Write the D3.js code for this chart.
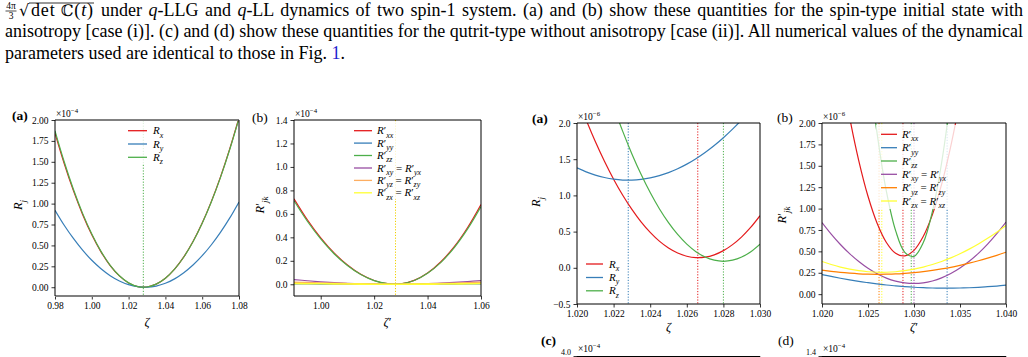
<!DOCTYPE html>
<html><head><meta charset="utf-8">
<script src="https://cdn.jsdelivr.net/npm/d3@7"></script>
<style>body{margin:0;background:#fff;overflow:hidden} svg{display:block}</style>
</head><body>
<svg id="c" width="1028" height="357"></svg>
<script>
// ---------------- DATA ----------------
// Panel (a) left, values x1e-4
const zetaA = [0.980,0.985,0.990,0.995,1.000,1.005,1.010,1.015,1.020,1.025,1.030,1.035,1.040,1.045,1.050,1.055,1.060,1.065,1.070,1.075,1.080];
const aRx = [1.843,1.479,1.155,0.871,0.627,0.423,0.259,0.135,0.051,0.007,0.003,0.037,0.108,0.217,0.363,0.547,0.768,1.027,1.323,1.657,2.028];
const aRy = [0.920,0.741,0.583,0.443,0.322,0.221,0.138,0.075,0.031,0.006,0.000,0.014,0.047,0.100,0.173,0.265,0.377,0.508,0.659,0.829,1.020];
const aRz = [1.870,1.500,1.171,0.883,0.636,0.429,0.262,0.137,0.052,0.007,0.003,0.037,0.108,0.216,0.361,0.544,0.765,1.022,1.317,1.650,2.020];
const aMin = [1.028];

// Panel (b) left, values x1e-4
const zetaB = [0.990,0.995,1.000,1.005,1.010,1.015,1.020,1.025,1.030,1.035,1.040,1.045,1.050,1.055,1.060];
const bRxx = [0.729,0.550,0.396,0.267,0.164,0.085,0.032,0.005,0.003,0.033,0.096,0.192,0.321,0.484,0.680];
const bRyy = [0.004,0.003,0.002,0.001,0.001,0.000,0.000,0.000,0.000,0.000,0.001,0.001,0.002,0.003,0.004];
const bRzz = [0.712,0.537,0.386,0.260,0.160,0.083,0.031,0.005,0.003,0.032,0.094,0.187,0.313,0.472,0.663];
const bRxy = [0.040,0.030,0.021,0.014,0.008,0.004,0.001,0.000,0.000,0.002,0.005,0.010,0.016,0.023,0.031];
const bRyz = [0.017,0.014,0.011,0.008,0.005,0.003,0.001,0.000,0.000,0.001,0.003,0.006,0.009,0.013,0.017];
const bRzx = [0.006,0.005,0.004,0.003,0.002,0.001,0.000,0.000,0.000,0.001,0.001,0.002,0.003,0.004,0.006];
const bMin = [1.028];

// Panel (a) right, values x1e-6
const zetaC = [1.0200,1.0205,1.0210,1.0215,1.0220,1.0225,1.0230,1.0235,1.0240,1.0245,1.0250,1.0255,1.0260,1.0265,1.0270,1.0275,1.0280,1.0285,1.0290,1.0295,1.0300];
const cRx = [2.366,2.043,1.744,1.472,1.224,1.002,0.806,0.634,0.489,0.368,0.273,0.204,0.160,0.141,0.147,0.179,0.237,0.320,0.428,0.561,0.720];
const cRy = [1.380,1.325,1.280,1.247,1.224,1.212,1.211,1.221,1.241,1.273,1.315,1.368,1.432,1.507,1.593,1.689,1.797,1.915,2.044,2.184,2.335];
const cRz = [3.885,3.426,2.996,2.595,2.225,1.884,1.573,1.291,1.039,0.816,0.624,0.461,0.327,0.223,0.149,0.105,0.090,0.105,0.149,0.223,0.327];
const cMin = {Ry:1.0228, Rx:1.0266, Rz:1.0280};

// Panel (b) right, values x1e-6
const zetaD = [1.020,1.021,1.022,1.023,1.024,1.025,1.026,1.027,1.028,1.029,1.030,1.031,1.032,1.033,1.034,1.035,1.036,1.037,1.038,1.039,1.040];
const dRxx = [4.171,3.374,2.673,2.067,1.558,1.144,0.826,0.604,0.477,0.447,0.512,0.673,0.929,1.282,1.730,2.274,2.914,3.650,4.482,5.409,6.432];
const dRyy = [0.229,0.207,0.186,0.167,0.149,0.134,0.120,0.107,0.097,0.088,0.081,0.076,0.072,0.070,0.070,0.072,0.075,0.080,0.087,0.095,0.105];
const dRzz = [10.19,8.28,6.59,5.10,3.82,2.74,1.87,1.20,0.742,0.489,0.442,0.600,0.965,1.535,2.312,3.295,4.48,5.88,7.48,9.29,11.30];
const dRxy = [0.837,0.702,0.580,0.473,0.381,0.302,0.238,0.188,0.153,0.132,0.125,0.132,0.154,0.190,0.241,0.305,0.384,0.477,0.585,0.707,0.843];
const dRyz = [0.280,0.266,0.254,0.245,0.238,0.234,0.232,0.233,0.236,0.243,0.252,0.263,0.278,0.295,0.314,0.337,0.362,0.390,0.421,0.454,0.490];
const dRzx = [0.382,0.346,0.316,0.292,0.274,0.262,0.256,0.256,0.262,0.274,0.292,0.316,0.346,0.382,0.424,0.472,0.526,0.586,0.652,0.724,0.802];
const dMin = {Ryz:1.0262, Rzx:1.0265, Rxx:1.0288, Rzz:1.0297, Rxy:1.0300, Ryy:1.0336};

// tick values
const xTicksA = [0.98,1.00,1.02,1.04,1.06,1.08];
const yTicksA = [0,0.25,0.5,0.75,1.0,1.25,1.5,1.75,2.0];
const xTicksB = [1.00,1.02,1.04,1.06];
const yTicksB = [0,0.2,0.4,0.6,0.8,1.0,1.2,1.4];
const xTicksC = [1.020,1.022,1.024,1.026,1.028,1.030];
const yTicksC = [-0.5,0,0.5,1.0,1.5,2.0];
const xTicksD = [1.020,1.025,1.030,1.035,1.040];
const yTicksD = [0,0.25,0.5,0.75,1.0,1.25,1.5,1.75,2.0];

// ---------------- DRAWING ----------------
const RED="#e41a1c", BLUE="#377eb8", GREEN="#4daf4a", PURPLE="#984ea3", ORANGE="#ff7f00", YELLOW="#ffff33";
const SERIF = "'Liberation Serif','DejaVu Serif',serif";
const svg = d3.select("#c");

function rich(g, x, y, segs, fs, anchor) {
  const t = g.append("text").attr("x", x).attr("y", y).attr("font-size", fs)
    .attr("font-family", SERIF).attr("text-anchor", anchor || "start").attr("fill", "#000");
  let cur = 0;
  segs.forEach(([s, st]) => {
    st = st || "";
    const target = st.includes("sub") ? fs * 0.3 : st.includes("sup") ? -fs * 0.42 : 0;
    const ts = t.append("tspan").text(s).attr("dy", target - cur);
    if (st.includes("sub") || st.includes("sup")) ts.attr("font-size", fs * 0.72);
    if (st.includes("i")) ts.attr("font-style", "italic");
    cur = target;
  });
  return t;
}
const L = (j) => [["R","i"],[j,"i sub"]];
const LP = (j) => [["R","i"],["′",""],[j,"i sub"]];
const LPE = (a,b) => [["R","i"],["′",""],[a,"i sub"],[" = ",""],["R","i"],["′",""],[b,"i sub"]];

function panel(cfg) {
  const g = svg.append("g");
  const x = d3.scaleLinear().domain(cfg.xdom).range([cfg.x0, cfg.x1]);
  const y = d3.scaleLinear().domain(cfg.ydom).range([cfg.y1, cfg.y0]);
  const id = "clip" + cfg.id;
  svg.append("clipPath").attr("id", id).append("rect")
    .attr("x", cfg.x0).attr("y", cfg.y0).attr("width", cfg.x1 - cfg.x0).attr("height", cfg.y1 - cfg.y0);
  const plot = g.append("g").attr("clip-path", `url(#${id})`);
  cfg.vlines.forEach(v => plot.append("line")
    .attr("x1", x(v.x)).attr("x2", x(v.x)).attr("y1", cfg.y0).attr("y2", cfg.y1)
    .attr("stroke", v.color).attr("stroke-width", 1).attr("stroke-dasharray", "1.2,1.6"));
  const line = d3.line().curve(d3.curveCatmullRom.alpha(0.5));
  cfg.series.forEach(s => plot.append("path")
    .attr("d", line(s.y.map((v, i) => [x(cfg.xs[i]), y(v)])))
    .attr("fill", "none").attr("stroke", s.color).attr("stroke-width", s.w || 1.2)
    .attr("stroke-opacity", s.op || 1));
  // legend
  const lg = cfg.legend;
  plot.append("rect").attr("x", lg.box[0]).attr("y", lg.box[1]).attr("width", lg.box[2]).attr("height", lg.box[3])
    .attr("fill", "#fff").attr("fill-opacity", 0.8);
  lg.rows.forEach((yy, i) => {
    const s = cfg.series[lg.order[i]];
    g.append("line").attr("x1", lg.lx[0]).attr("x2", lg.lx[1]).attr("y1", yy).attr("y2", yy)
      .attr("stroke", s.color).attr("stroke-width", 1.3).attr("stroke-opacity", s.op || 1);
    rich(g, lg.tx, yy + 3.5, s.label, 11);
  });
  // axes
  const ax = g.append("g").attr("transform", `translate(0,${cfg.y1})`)
    .call(d3.axisBottom(x).tickValues(cfg.xticks).tickFormat(cfg.xfmt).tickSize(3.5).tickPadding(3));
  const ay = g.append("g").attr("transform", `translate(${cfg.x0},0)`)
    .call(d3.axisLeft(y).tickValues(cfg.yticks).tickFormat(cfg.yfmt).tickSize(3.5).tickPadding(3));
  [ax, ay].forEach(a => {
    a.select(".domain").remove();
    a.attr("font-family", SERIF).attr("font-size", 9.5);
    a.selectAll("text").attr("font-family", SERIF).attr("font-size", 9.5).attr("fill", "#000");
    a.selectAll("line").attr("stroke", "#000").attr("stroke-width", 0.8);
  });
  // spines
  const sp = (x1, y1, x2, y2, c, w) => g.append("line").attr("x1", x1).attr("y1", y1).attr("x2", x2).attr("y2", y2)
    .attr("stroke", c).attr("stroke-width", w);
  const tb = cfg.tbColor || "#000", tbw = cfg.tbW || 1;
  sp(cfg.x0, cfg.y0, cfg.x1, cfg.y0, tb, tbw);
  sp(cfg.x0, cfg.y1, cfg.x1, cfg.y1, tb, tbw);
  sp(cfg.x0, cfg.y0, cfg.x0, cfg.y1, "#000", 1);
  sp(cfg.x1, cfg.y0, cfg.x1, cfg.y1, "#000", 1);
  // multiplier text
  rich(g, cfg.x0 + 1, cfg.y0 - 3.5, [["×10",""],[cfg.exp,"sup"]], 9.5);
  // panel label
  g.append("text").attr("x", cfg.lab[0]).attr("y", cfg.lab[1]).attr("font-family", SERIF)
    .attr("font-size", 13.5).attr("font-weight", cfg.labBold ? "bold" : "normal").text(cfg.lab[2]);
  // axis labels
  rich(g, (cfg.x0 + cfg.x1) / 2, cfg.xl, cfg.xlab, 12.5, "middle");
  const yl = rich(g, 0, 0, cfg.ylab, 12.5, "middle");
  yl.attr("x", null).attr("y", null).attr("transform", `translate(${cfg.yl[0]},${cfg.yl[1]}) rotate(-90)`);
  return {x, y};
}

const f2 = d3.format(".2f"), f1 = d3.format(".1f"), f3 = d3.format(".3f");

panel({id: "A", x0: 55, x1: 239, y0: 120, y1: 296, xdom: [0.98, 1.08], ydom: [-0.105, 2.0],
  xs: zetaA, xticks: xTicksA, yticks: yTicksA, xfmt: f2, yfmt: f2, exp: "−4",
  tbColor: "#808080", tbW: 2,
  series: [
    {y: aRx, color: RED, label: L("x")},
    {y: aRy, color: BLUE, label: L("y")},
    {y: aRz, color: GREEN, label: L("z")}],
  vlines: [{x: aMin[0], color: GREEN}],
  legend: {box: [124, 122, 46, 42], rows: [130.7, 144, 157.3], order: [0, 1, 2], lx: [128, 147], tx: 153},
  lab: [12, 120, "(a)"], labBold: true, xl: 326, xlab: [["ζ","i"]], yl: [22, 205], ylab: [["R","i"],["j","i sub"]]});

panel({id: "B", x0: 294, x1: 481, y0: 120, y1: 296, xdom: [0.99, 1.06], ydom: [-0.1, 1.4],
  xs: zetaB, xticks: xTicksB, yticks: yTicksB, xfmt: f2, yfmt: f1, exp: "−4",
  series: [
    {y: bRxx, color: RED, label: LP("xx")},
    {y: bRyy, color: BLUE, label: LP("yy")},
    {y: bRzz, color: GREEN, label: LP("zz")},
    {y: bRxy, color: PURPLE, label: LPE("xy","yx")},
    {y: bRyz, color: "#fdae61", w: 1.6, label: LPE("yz","zy")},
    {y: bRzx, color: YELLOW, w: 1.6, label: LPE("zx","xz")}],
  vlines: [{x: bMin[0], color: "#f0d000"}],
  legend: {box: [350, 122, 76, 77], rows: [130.7, 143.1, 155.5, 168, 180.4, 192.8], order: [0,1,2,3,4,5], lx: [354, 372], tx: 377},
  lab: [252, 122, "(b)"], labBold: false, xl: 326, xlab: [["ζ","i"],["′",""]], yl: [264, 205], ylab: [["R","i"],["′",""],["jk","i sub"]]});

panel({id: "C", x0: 577, x1: 760, y0: 123, y1: 304, xdom: [1.020, 1.030], ydom: [-0.5, 2.0],
  xs: zetaC, xticks: xTicksC, yticks: yTicksC, xfmt: f3, yfmt: f1, exp: "−6",
  series: [
    {y: cRx, color: RED, label: L("x")},
    {y: cRy, color: BLUE, label: L("y")},
    {y: cRz, color: GREEN, label: L("z")}],
  vlines: [{x: cMin.Ry, color: BLUE}, {x: cMin.Rx, color: RED}, {x: cMin.Rz, color: GREEN}],
  legend: {box: [582, 256, 44, 42], rows: [264, 277.5, 290.8], order: [0, 1, 2], lx: [586, 603], tx: 609},
  lab: [532, 123, "(a)"], labBold: true, xl: 331, xlab: [["ζ","i"]], yl: [540, 202], ylab: [["R","i"],["j","i sub"]]});

panel({id: "D", x0: 822, x1: 1006, y0: 123, y1: 304, xdom: [1.020, 1.040], ydom: [-0.115, 2.0],
  xs: zetaD, xticks: xTicksD, yticks: yTicksD, xfmt: f3, yfmt: f2, exp: "−6",
  series: [
    {y: dRxx, color: RED, label: LP("xx")},
    {y: dRyy, color: BLUE, label: LP("yy")},
    {y: dRzz, color: GREEN, label: LP("zz")},
    {y: dRxy, color: PURPLE, label: LPE("xy","yx")},
    {y: dRyz, color: ORANGE, label: LPE("yz","zy")},
    {y: dRzx, color: YELLOW, label: LPE("zx","xz")}],
  vlines: [{x: dMin.Ryz, color: ORANGE}, {x: dMin.Rzx, color: YELLOW}, {x: dMin.Rxx, color: RED},
           {x: dMin.Rzz, color: GREEN}, {x: dMin.Rxy, color: PURPLE}, {x: dMin.Ryy, color: BLUE}],
  legend: {box: [876, 125, 82, 84], rows: [134.3, 147.7, 161, 174.3, 187.7, 201], order: [0,1,2,3,4,5], lx: [881, 897], tx: 902},
  lab: [777, 122, "(b)"], labBold: false, xl: 331, xlab: [["ζ","i"],["′",""]], yl: [786, 215], ylab: [["R","i"],["′",""],["jk","i sub"]]});

// -------- bottom strip: tops of panels (c) and (d) --------
(function () {
  const g = svg.append("g");
  g.append("text").attr("x", 541).attr("y", 345).attr("font-family", SERIF).attr("font-size", 13.5).attr("font-weight", "bold").text("(c)");
  g.append("text").attr("x", 778).attr("y", 345).attr("font-family", SERIF).attr("font-size", 13.5).text("(d)");
  [[577, 760, "4.0"], [822, 1006, "1.4"]].forEach(([a, b, t]) => {
    g.append("line").attr("x1", a).attr("x2", b).attr("y1", 356.5).attr("y2", 356.5).attr("stroke", "#000").attr("stroke-width", 1);
    g.append("line").attr("x1", a).attr("x2", a).attr("y1", 356.5).attr("y2", 360).attr("stroke", "#000");
    g.append("line").attr("x1", b).attr("x2", b).attr("y1", 356.5).attr("y2", 360).attr("stroke", "#000");
    g.append("line").attr("x1", a - 3.5).attr("x2", a).attr("y1", 356.5).attr("y2", 356.5).attr("stroke", "#000").attr("stroke-width", 0.8);
    g.append("text").attr("x", a - 6).attr("y", 354.8).attr("text-anchor", "end").attr("font-family", SERIF).attr("font-size", 8).text(t);
    rich(g, a + 1, 351.5, [["×10",""],["−4","sup"]], 9.5);
  });
})();

// -------- caption --------
(function () {
  const g = svg.append("g");
  const CF = "'Liberation Serif','Times New Roman',serif";
  const fs = 18;
  const b1 = 16.2;
  // fraction 4π/3
  g.append("text").attr("x", 11).attr("y", 9.3).attr("text-anchor", "middle").attr("font-family", CF).attr("font-size", 9.5).text("4π");
  g.append("line").attr("x1", 5.5).attr("x2", 16.5).attr("y1", 11).attr("y2", 11).attr("stroke", "#000").attr("stroke-width", 0.7);
  g.append("text").attr("x", 11).attr("y", 19.3).attr("text-anchor", "middle").attr("font-family", CF).attr("font-size", 9.5).text("3");
  // sqrt det C(t)
  g.append("text").attr("x", 19).attr("y", b1).attr("font-family", "'DejaVu Serif',serif").attr("font-size", 16).text("√");
  const dt = g.append("text").attr("x", 31).attr("y", b1).attr("font-family", CF).attr("font-size", fs)
    .attr("textLength", 62).attr("lengthAdjust", "spacing");
  dt.append("tspan").text("det ");
  dt.append("tspan").attr("font-family", "'DejaVu Serif',serif").attr("font-size", 16).text("ℂ");
  dt.append("tspan").text("(");
  dt.append("tspan").attr("font-style", "italic").text("t");
  dt.append("tspan").text(")");
  g.append("line").attr("x1", 29).attr("x2", 94).attr("y1", 3).attr("y2", 3).attr("stroke", "#000").attr("stroke-width", 0.8);

  function justify(t, x0, x1) {
    const w = t.node().getComputedTextLength();
    const n = (t.node().textContent.match(/ /g) || []).length;
    t.attr("word-spacing", (x1 - x0 - w) / n);
  }
  const l1 = g.append("text").attr("x", 101).attr("y", b1).attr("font-family", CF).attr("font-size", fs);
  l1.append("tspan").text("under ");
  l1.append("tspan").attr("font-style", "italic").text("q");
  l1.append("tspan").text("-LLG and ");
  l1.append("tspan").attr("font-style", "italic").text("q");
  l1.append("tspan").text("-LL dynamics of two spin-1 system. (a) and (b) show these quantities for the spin-type initial state with");
  justify(l1, 101, 1023);
  const l2 = g.append("text").attr("x", 5).attr("y", 37).attr("font-family", CF).attr("font-size", fs)
    .text("anisotropy [case (i)]. (c) and (d) show these quantities for the qutrit-type without anisotropy [case (ii)]. All numerical values of the dynamical");
  justify(l2, 5, 1023);
  const l3 = g.append("text").attr("x", 5).attr("y", 59.3).attr("font-family", CF).attr("font-size", fs);
  l3.append("tspan").text("parameters used are identical to those in Fig. ");
  l3.append("tspan").attr("fill", "#1f1fd0").text("1");
  l3.append("tspan").text(".");
})();
</script>
</body></html>
